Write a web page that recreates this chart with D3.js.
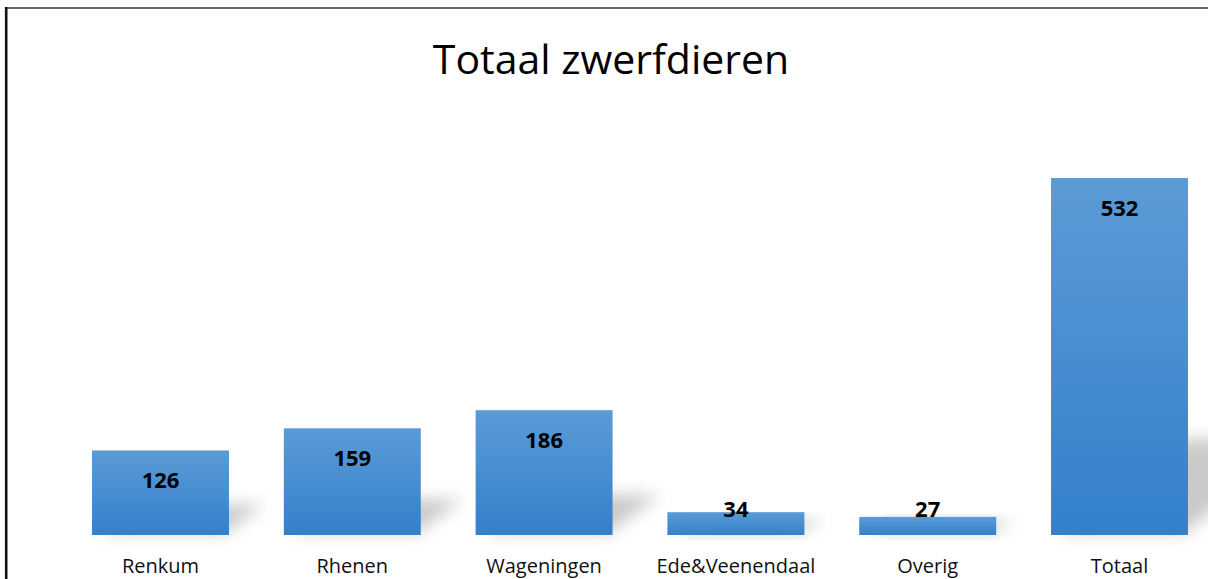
<!DOCTYPE html>
<html>
<head>
<meta charset="utf-8">
<script src="https://cdn.jsdelivr.net/npm/d3@7"></script>
<style>
  body { margin: 0; background: #fff; }
  svg { display: block; font-family: "Open Sans", "Noto Sans", sans-serif; }
</style>
</head>
<body>
<script>
var w = 1208;
var h = 579;

// Data
var categories = ["Renkum", "Rhenen", "Wageningen", "Ede&Veenendaal", "Overig", "Totaal"];
var values = [126, 159, 186, 34, 27, 532];
var title = "Totaal zwerfdieren";

var baseY = 535;

var svg = d3.select("body")
    .append("svg")
    .attr("width", w)
    .attr("height", h);

var defs = svg.append("defs");

// Bar gradient, light at the top, darker at the bottom
var grad = defs.append("linearGradient")
    .attr("id", "barGrad")
    .attr("x1", 0).attr("y1", 0)
    .attr("x2", 0).attr("y2", 1);
grad.append("stop").attr("offset", "0%").attr("stop-color", "#5b9bd6");
grad.append("stop").attr("offset", "100%").attr("stop-color", "#3380cb");

// Soft shadow
defs.append("filter")
    .attr("id", "blur")
    .attr("x", "-50%").attr("y", "-50%")
    .attr("width", "200%").attr("height", "200%")
    .append("feGaussianBlur")
    .attr("stdDeviation", 8);

// Frame lines (top and left)
svg.append("line")
    .attr("x1", 6).attr("y1", 8)
    .attr("x2", w).attr("y2", 8)
    .attr("stroke", "#333")
    .attr("stroke-width", 1.5);
svg.append("line")
    .attr("x1", 6.2).attr("y1", 7)
    .attr("x2", 6.2).attr("y2", h)
    .attr("stroke", "#111")
    .attr("stroke-width", 2.6);

// Scales
var x = d3.scaleBand()
    .domain(categories)
    .range([64.6, 1215.4])
    .paddingInner(0.286)
    .paddingOuter(0.143);

var y = d3.scaleLinear()
    .domain([0, 532])
    .range([baseY, 178]);

// Title
svg.append("text")
    .attr("x", 611)
    .attr("y", 74)
    .attr("text-anchor", "middle")
    .style("font-size", "41px")
    .style("fill", "#000")
    .text(title);

// Shadows behind the bars
svg.append("g")
    .selectAll("path")
    .data(values)
    .enter()
    .append("path")
    .attr("d", function(d, i) {
        var x0 = x(categories[i]);
        var x1 = x0 + x.bandwidth();
        var bh = baseY - y(d);
        var s = bh * 0.24 + 10;
        var dx = bh * 0.3 + 10;
        return "M" + (x0 + 10) + "," + (baseY - 2) +
            "L" + (x1 - 4) + "," + (baseY - 2) +
            "L" + (x1 + dx) + "," + (baseY - s) +
            "L" + (x0 + 10 + dx) + "," + (baseY - s) + "Z";
    })
    .attr("fill", "#b4b4b4")
    .attr("opacity", 0.7)
    .attr("filter", "url(#blur)");

// Bars
svg.append("g")
    .selectAll("rect")
    .data(values)
    .enter()
    .append("rect")
    .attr("x", function(d, i) { return x(categories[i]); })
    .attr("y", function(d) { return y(d); })
    .attr("width", x.bandwidth())
    .attr("height", function(d) { return baseY - y(d); })
    .attr("fill", "url(#barGrad)");

// Value labels
svg.append("g")
    .selectAll("text")
    .data(values)
    .enter()
    .append("text")
    .attr("x", function(d, i) { return x(categories[i]) + x.bandwidth() / 2; })
    .attr("y", function(d) { return Math.min(y(d) + 38, baseY - 18); })
    .attr("text-anchor", "middle")
    .style("font-size", "22px")
    .style("font-weight", "bold")
    .style("fill", "#000")
    .text(function(d) { return d; });

// Category labels
svg.append("g")
    .selectAll("text")
    .data(categories)
    .enter()
    .append("text")
    .attr("x", function(d) { return x(d) + x.bandwidth() / 2; })
    .attr("y", 573)
    .attr("text-anchor", "middle")
    .style("font-size", "20px")
    .style("fill", "#111")
    .text(function(d) { return d; });
</script>
</body>
</html>
